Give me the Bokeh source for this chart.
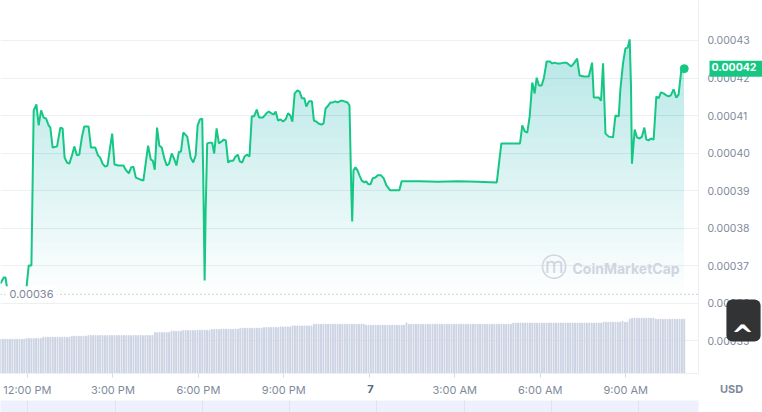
import numpy as np
from bokeh.plotting import figure
from bokeh.models import Range1d, FixedTicker, PrintfTickFormatter, Span, Label, Grid
from bokeh.layouts import column
from bokeh.embed import file_html
from bokeh.resources import INLINE

# hours after 12:00 PM (day 6) and price in USD
price_hours = [
    -0.945, -0.83, -0.77, -0.70, -0.595, -0.175, -0.035, 0.045, 0.14, 0.22,
    0.315, 0.395, 0.48, 0.57, 0.655, 0.745, 0.805, 0.885, 1.04, 1.155,
    1.235, 1.305, 1.39, 1.47, 1.565, 1.645, 1.74, 1.82, 1.915, 1.995,
    2.145, 2.23, 2.38, 2.475, 2.555, 2.635, 2.73, 2.81, 2.895, 2.975,
    3.055, 3.195, 3.37, 3.465, 3.56, 3.64, 3.72, 3.805, 3.955, 4.07,
    4.155, 4.235, 4.33, 4.40, 4.47, 4.55, 4.63, 4.715, 4.805, 4.89,
    4.97, 5.065, 5.145, 5.23, 5.32, 5.39, 5.47, 5.61, 5.73, 5.82,
    5.905, 5.975, 6.055, 6.135, 6.17, 6.22, 6.255, 6.31, 6.405, 6.485,
    6.555, 6.64, 6.72, 6.815, 6.895, 6.965, 7.045, 7.13, 7.22, 7.305,
    7.385, 7.455, 7.535, 7.62, 7.70, 7.795, 7.875, 7.955, 8.05, 8.13,
    8.27, 8.39, 8.47, 8.565, 8.645, 8.715, 8.795, 8.89, 8.97, 9.065,
    9.145, 9.23, 9.30, 9.38, 9.475, 9.555, 9.635, 9.72, 9.79, 9.88,
    9.985, 10.055, 10.14, 10.22, 10.315, 10.395, 10.465, 10.56, 10.64, 10.72,
    10.805, 10.885, 10.965, 11.05, 11.13, 11.235, 11.305, 11.365, 11.40, 11.445,
    11.515, 11.585, 11.655, 11.735, 11.83, 11.89, 11.97, 12.04, 12.12, 12.215,
    12.295, 12.415, 12.505, 12.60, 12.73, 12.88, 13.055, 13.135, 13.755, 14.4,
    15.1, 15.8, 16.475, 16.635, 17.29, 17.37, 17.455, 17.545, 17.63, 17.72,
    17.805, 17.875, 17.955, 18.05, 18.13, 18.225, 18.34, 18.42, 18.505, 18.595,
    18.715, 18.83, 18.925, 19.005, 19.085, 19.18, 19.295, 19.38, 19.53, 19.705,
    19.82, 19.88, 20.055, 20.135, 20.205, 20.29, 20.405, 20.555, 20.64, 20.755,
    20.815, 20.905, 20.99, 21.07, 21.14, 21.185, 21.22, 21.315, 21.395, 21.49,
    21.57, 21.655, 21.725, 21.805, 21.885, 21.98, 22.075, 22.155, 22.235, 22.33,
    22.425, 22.505, 22.585, 22.68, 22.775, 22.855, 22.95, 23.055,
]
price_usd = [
    36.53e-5, 36.69e-5, 36.69e-5, 36.34e-5, 36.25e-5, 36.25e-5, 36.40e-5, 37.01e-5, 37.01e-5, 41.14e-5,
    41.30e-5, 40.74e-5, 41.14e-5, 40.95e-5, 40.92e-5, 40.74e-5, 40.68e-5, 40.15e-5, 40.18e-5, 40.68e-5,
    40.66e-5, 39.88e-5, 39.75e-5, 39.72e-5, 39.94e-5, 40.18e-5, 39.94e-5, 39.96e-5, 40.44e-5, 40.71e-5,
    40.71e-5, 40.15e-5, 40.15e-5, 39.94e-5, 39.88e-5, 39.72e-5, 39.64e-5, 39.67e-5, 40.12e-5, 40.52e-5,
    39.70e-5, 39.67e-5, 39.67e-5, 39.54e-5, 39.46e-5, 39.62e-5, 39.64e-5, 39.35e-5, 39.30e-5, 39.27e-5,
    39.75e-5, 40.20e-5, 39.83e-5, 39.80e-5, 39.56e-5, 40.68e-5, 40.20e-5, 40.15e-5, 39.86e-5, 39.67e-5,
    39.72e-5, 39.99e-5, 39.86e-5, 39.67e-5, 40.04e-5, 40.04e-5, 40.55e-5, 40.44e-5, 39.88e-5, 39.75e-5,
    39.94e-5, 40.74e-5, 40.90e-5, 40.92e-5, 39.46e-5, 36.61e-5, 38.42e-5, 40.26e-5, 40.28e-5, 40.28e-5,
    39.99e-5, 40.66e-5, 40.26e-5, 40.31e-5, 40.36e-5, 40.34e-5, 39.75e-5, 39.80e-5, 39.80e-5, 39.91e-5,
    39.96e-5, 39.78e-5, 39.75e-5, 39.91e-5, 39.96e-5, 39.91e-5, 40.98e-5, 40.98e-5, 41.16e-5, 40.95e-5,
    40.95e-5, 41.06e-5, 41.11e-5, 41.06e-5, 41.03e-5, 41.11e-5, 40.87e-5, 40.90e-5, 40.84e-5, 40.90e-5,
    41.06e-5, 41.00e-5, 40.84e-5, 41.59e-5, 41.67e-5, 41.64e-5, 41.46e-5, 41.46e-5, 41.24e-5, 41.38e-5,
    41.38e-5, 40.87e-5, 40.84e-5, 40.79e-5, 40.76e-5, 40.79e-5, 41.19e-5, 41.27e-5, 41.35e-5, 41.35e-5,
    41.38e-5, 41.35e-5, 41.38e-5, 41.40e-5, 41.38e-5, 41.35e-5, 41.27e-5, 39.09e-5, 38.18e-5, 39.54e-5,
    39.62e-5, 39.54e-5, 39.41e-5, 39.27e-5, 39.22e-5, 39.25e-5, 39.17e-5, 39.17e-5, 39.33e-5, 39.35e-5,
    39.41e-5, 39.41e-5, 39.33e-5, 39.14e-5, 39.01e-5, 39.01e-5, 39.01e-5, 39.25e-5, 39.25e-5, 39.24e-5,
    39.25e-5, 39.24e-5, 39.22e-5, 40.26e-5, 40.26e-5, 40.74e-5, 40.58e-5, 40.55e-5, 40.98e-5, 41.88e-5,
    41.59e-5, 42.01e-5, 41.80e-5, 41.80e-5, 42.01e-5, 42.44e-5, 42.44e-5, 42.39e-5, 42.41e-5, 42.39e-5,
    42.39e-5, 42.41e-5, 42.41e-5, 42.36e-5, 42.31e-5, 42.39e-5, 42.52e-5, 42.07e-5, 42.04e-5, 42.04e-5,
    42.41e-5, 41.48e-5, 41.48e-5, 41.40e-5, 42.39e-5, 40.52e-5, 40.44e-5, 40.42e-5, 41.00e-5, 40.98e-5,
    41.72e-5, 42.39e-5, 42.79e-5, 42.81e-5, 43.03e-5, 41.80e-5, 39.72e-5, 40.63e-5, 40.42e-5, 40.39e-5,
    40.44e-5, 40.68e-5, 40.36e-5, 40.34e-5, 40.39e-5, 40.36e-5, 41.51e-5, 41.46e-5, 41.62e-5, 41.59e-5,
    41.54e-5, 41.51e-5, 41.54e-5, 41.70e-5, 41.48e-5, 41.56e-5, 42.20e-5, 42.25e-5,
]

# 5-minute volume bars, one row per hour (relative units)
volume = [
    343, 343, 343, 343, 343, 343, 343, 343, 343, 343, 343, 350,
    350, 350, 350, 350, 350, 350, 363, 363, 363, 363, 363, 363,
    363, 363, 363, 363, 363, 363, 373, 373, 373, 373, 373, 373,
    373, 380, 380, 380, 380, 380, 380, 380, 380, 380, 380, 380,
    380, 380, 380, 380, 380, 380, 380, 380, 380, 380, 380, 380,
    380, 380, 380, 380, 380, 410, 410, 410, 410, 410, 410, 410,
    423, 423, 423, 423, 423, 430, 430, 430, 430, 430, 430, 433,
    433, 433, 433, 433, 433, 440, 440, 440, 440, 443, 443, 443,
    443, 443, 443, 443, 443, 453, 453, 453, 453, 453, 453, 453,
    453, 453, 453, 460, 460, 460, 460, 460, 460, 460, 466, 466,
    466, 466, 466, 476, 476, 476, 476, 476, 476, 476, 476, 476,
    493, 493, 493, 493, 493, 493, 493, 493, 493, 493, 493, 493,
    493, 493, 493, 493, 493, 493, 493, 493, 493, 493, 483, 483,
    483, 483, 483, 483, 483, 483, 483, 483, 483, 483, 483, 483,
    483, 483, 483, 506, 493, 493, 493, 493, 493, 493, 493, 493,
    493, 493, 493, 493, 493, 493, 493, 493, 493, 493, 493, 493,
    493, 493, 493, 493, 493, 493, 493, 493, 493, 493, 493, 493,
    493, 493, 493, 493, 493, 493, 493, 493, 493, 493, 493, 493,
    505, 505, 505, 505, 505, 505, 505, 505, 505, 505, 505, 505,
    505, 505, 505, 505, 505, 505, 505, 505, 505, 505, 505, 505,
    505, 505, 505, 505, 505, 505, 505, 505, 505, 505, 505, 505,
    505, 505, 513, 513, 513, 513, 513, 513, 513, 513, 523, 513,
    513, 543, 553, 553, 553, 553, 553, 553, 553, 553, 553, 553,
    543, 543, 543, 543, 543, 543, 543, 543, 543, 543, 543, 543,
    543,
]

tick_hours = [0, 3, 6, 9, 12, 15, 18, 21]
tick_labels = ["12:00 PM", "3:00 PM", "6:00 PM", "9:00 PM", "7", "3:00 AM", "6:00 AM", "9:00 AM"]
price_ticks = [0.00035, 0.00036, 0.00037, 0.00038, 0.00039, 0.00040, 0.00041, 0.00042, 0.00043]
low_price = 0.0003624
start_hour = -0.945

GREEN = "#16c784"
TEXT = "#808a9d"
LINE = "#eceff4"
FONT = "Inter"

x_lo, x_hi = start_hour, 23.555
y_lo, y_hi = 0.00034132, 0.00044065
bar_hours = [start_hour + i / 12 for i in range(len(volume))]

p = figure(width=762, height=400, output_backend="svg", toolbar_location=None,
           x_range=Range1d(x_lo, x_hi), y_range=Range1d(y_lo, y_hi),
           y_axis_location="right", min_border=0, min_border_right=62, min_border_bottom=27,
           outline_line_color=None)

p.extra_y_ranges = {"vol": Range1d(0, 3730)}
p.vbar(x=bar_hours, top=volume, width=0.03, y_range_name="vol", color="#ccd3e3")

# gradient under the line made of stacked thin layers
price_arr = np.array(price_usd)
n_layers = 28
top_val = 0.00044
for k in range(n_layers):
    b = low_price + k * (top_val - low_price) / n_layers
    p.varea(x=price_hours, y1=b, y2=np.maximum(price_arr, b), fill_color=GREEN, fill_alpha=0.012)

p.add_layout(Span(location=low_price, dimension="width", line_color="#9aa3b5",
                  line_dash="1 3", line_width=1))

p.line(price_hours, price_usd, color=GREEN, line_width=2)
p.scatter([price_hours[-1]], [price_usd[-1]], size=8, color=GREEN)

p.xgrid.grid_line_color = None
p.ygrid.ticker = FixedTicker(ticks=price_ticks)
p.ygrid.grid_line_color = LINE

p.yaxis.ticker = FixedTicker(ticks=price_ticks)
p.yaxis.formatter = PrintfTickFormatter(format="%.5f")
p.yaxis.major_tick_out = 0
p.yaxis.major_tick_in = 0
p.yaxis.major_tick_line_color = None
p.yaxis.minor_tick_line_color = None
p.yaxis.axis_line_color = LINE
p.yaxis.major_label_standoff = 9
p.yaxis.major_label_text_font = FONT
p.yaxis.major_label_text_font_size = "10.5px"
p.yaxis.major_label_text_color = TEXT

p.xaxis.ticker = FixedTicker(ticks=tick_hours)
p.xaxis.major_label_overrides = {h: (lab if lab != "7" else "") for h, lab in zip(tick_hours, tick_labels)}
p.xaxis.major_tick_in = 0
p.xaxis.major_tick_out = 4
p.xaxis.major_tick_line_color = "#d5dae4"
p.xaxis.minor_tick_line_color = None
p.xaxis.axis_line_color = LINE
p.xaxis.major_label_standoff = 5
p.xaxis.major_label_text_font = FONT
p.xaxis.major_label_text_font_size = "11px"
p.xaxis.major_label_text_color = TEXT

# low price tag on the left
p.add_layout(Label(x=5, y=low_price, x_units="screen", text="0.00036",
                   text_baseline="middle", text_font=FONT, text_font_size="11px",
                   text_color="#7d879a", background_fill_color="white", padding=4))

# watermark
p.add_layout(Label(x=553, y=107, x_units="screen", y_units="screen", text="ⓜ",
                   text_align="center", text_baseline="middle", text_font="DejaVu Sans",
                   text_font_size="26px", text_color="#cfd5e1"))
p.add_layout(Label(x=572, y=105, x_units="screen", y_units="screen", text="CoinMarketCap",
                   text_baseline="middle", text_font=FONT, text_font_size="14px",
                   text_font_style="bold", text_color="#cfd5e1"))

nav = figure(width=762, height=12, output_backend="svg", toolbar_location=None,
             x_range=Range1d(start_hour, 23.055), y_range=Range1d(0, 1),
             x_axis_type=None, y_axis_type=None, min_border=0, min_border_right=64,
             background_fill_color="#eef1fd", outline_line_color=None, frame_align=False)
nav.add_layout(Grid(dimension=0, ticker=FixedTicker(ticks=tick_hours), grid_line_color="#dce2f4"))

# transparent overlay over the whole chart for the tags outside the plot frame
q = figure(width=762, height=400, output_backend="svg", toolbar_location=None,
           x_range=Range1d(x_lo, x_lo + (x_hi - x_lo) * 762 / 700),
           y_range=Range1d(y_lo - (y_hi - y_lo) * 27 / 373, y_hi),
           x_axis_type=None, y_axis_type=None, min_border=0, frame_align=False,
           background_fill_color=None, border_fill_color=None, outline_line_color=None,
           margin=(-412, 0, 0, 0))

q.add_layout(Label(x=tick_hours[4], y=12, y_units="screen", text=tick_labels[4],
                   text_align="center", text_baseline="middle", text_font=FONT,
                   text_font_size="11px", text_font_style="bold", text_color="#58667e"))

q.add_layout(Label(x=709, y=price_usd[-1], x_units="screen", text="%.5f" % price_usd[-1],
                   text_baseline="middle", text_font=FONT, text_font_size="10.5px",
                   text_font_style="bold", text_color="white",
                   background_fill_color=GREEN, padding=(2, 10, 2, 6)))

q.add_layout(Label(x=731, y=12, x_units="screen", y_units="screen", text="USD",
                   text_align="center", text_baseline="middle", text_font=FONT,
                   text_font_size="11px", text_font_style="bold", text_color=TEXT))

# scroll-to-top button
q.add_layout(Label(x=743, y=80, x_units="screen", y_units="screen", text=" ",
                   text_align="center", text_baseline="middle", text_font="DejaVu Sans",
                   text_font_size="10px", background_fill_color="#323335",
                   padding=(10, 21, 10, 21), border_radius=6))
q.add_layout(Label(x=742, y=66.5, x_units="screen", y_units="screen", text="^",
                   text_align="center", text_baseline="alphabetic", text_font="DejaVu Sans",
                   text_font_size="27px", text_font_style="bold", text_color="white"))

layout = column(p, nav, q, spacing=0)

open("out.html", "w").write(file_html(layout, INLINE))
